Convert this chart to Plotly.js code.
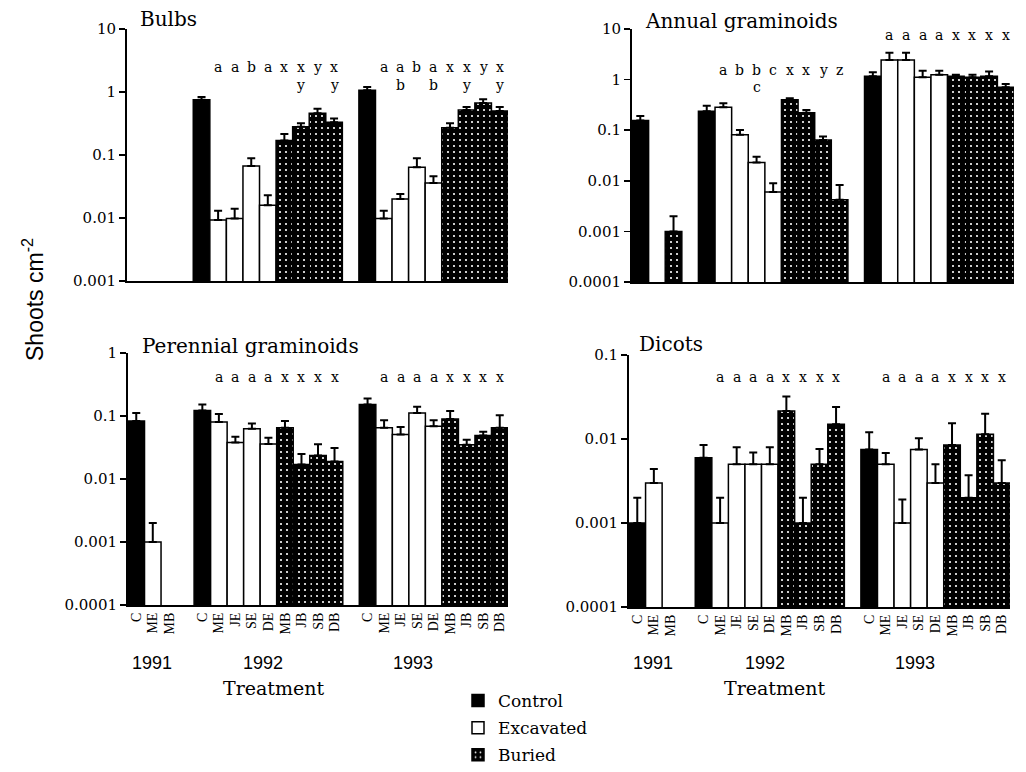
<!DOCTYPE html>
<html><head><meta charset="utf-8">
<script src="https://cdn.plot.ly/plotly-3.0.1.min.js"></script>
<style>html,body{margin:0;padding:0;background:#fff;overflow:hidden}#chart{width:1026px;height:772px}</style>
</head><body><div id="chart"></div>
<script>
// ---------- data ----------
const years = ['1991', '1992', '1993'];
const treatments1991 = ['C', 'ME', 'MB'];
const treatments = ['C', 'ME', 'JE', 'SE', 'DE', 'MB', 'JB', 'SB', 'DB'];
const groupNames = ['Control', 'Excavated', 'Buried'];
const groupOf = {C: 'Control', ME: 'Excavated', JE: 'Excavated', SE: 'Excavated', DE: 'Excavated',
                 MB: 'Buried', JB: 'Buried', SB: 'Buried', DB: 'Buried'};

// Bulbs
const bulbs1991 = [null, null, null];
const bulbs1991Err = [null, null, null];
const bulbs1992 = [0.75, 0.0093, 0.0098, 0.067, 0.016, 0.17, 0.28, 0.46, 0.33];
const bulbs1992Err = [0.08, 0.0037, 0.0042, 0.022, 0.007, 0.045, 0.04, 0.08, 0.05];
const bulbs1993 = [1.07, 0.0098, 0.020, 0.064, 0.036, 0.27, 0.52, 0.67, 0.50];
const bulbs1993Err = [0.13, 0.0032, 0.004, 0.025, 0.010, 0.05, 0.06, 0.10, 0.08];
const bulbsLetters1992 = ['a', 'a', 'b', 'a', 'x', 'x', 'y', 'x'];
const bulbsLetters1992b = ['', '', '', '', '', 'y', '', 'y'];
const bulbsLetters1993 = ['a', 'a', 'b', 'a', 'x', 'x', 'y', 'x'];
const bulbsLetters1993b = ['', 'b', '', 'b', '', 'y', '', 'y'];

// Annual graminoids
const annual1991 = [0.155, null, 0.001];
const annual1991Err = [0.035, null, 0.001];
const annual1992 = [0.237, 0.285, 0.081, 0.023, 0.006, 0.40, 0.22, 0.064, 0.0042];
const annual1992Err = [0.068, 0.055, 0.020, 0.007, 0.0029, 0.03, 0.03, 0.011, 0.0041];
const annual1993 = [1.17, 2.45, 2.45, 1.11, 1.24, 1.17, 1.11, 1.17, 0.71];
const annual1993Err = [0.23, 0.95, 0.95, 0.39, 0.26, 0.07, 0.13, 0.27, 0.11];
const annualLetters1992 = ['a', 'b', 'b', 'c', 'x', 'x', 'y', 'z'];
const annualLetters1992b = ['', '', 'c', '', '', '', '', ''];
const annualLetters1993 = ['a', 'a', 'a', 'a', 'x', 'x', 'x', 'x'];
const annualLetters1993b = ['', '', '', '', '', '', '', ''];

// Perennial graminoids
const perennial1991 = [0.083, 0.001, null];
const perennial1991Err = [0.029, 0.001, null];
const perennial1992 = [0.122, 0.080, 0.038, 0.063, 0.036, 0.065, 0.017, 0.0237, 0.019];
const perennial1992Err = [0.030, 0.028, 0.009, 0.013, 0.009, 0.018, 0.008, 0.012, 0.012];
const perennial1993 = [0.152, 0.065, 0.051, 0.112, 0.069, 0.090, 0.035, 0.049, 0.065];
const perennial1993Err = [0.038, 0.021, 0.016, 0.028, 0.017, 0.030, 0.007, 0.007, 0.038];
const perennialLetters1992 = ['a', 'a', 'a', 'a', 'x', 'x', 'x', 'x'];
const perennialLetters1993 = ['a', 'a', 'a', 'a', 'x', 'x', 'x', 'x'];

// Dicots
const dicots1991 = [0.001, 0.003, null];
const dicots1991Err = [0.001, 0.0014, null];
const dicots1992 = [0.006, 0.001, 0.005, 0.005, 0.005, 0.0216, 0.001, 0.005, 0.015];
const dicots1992Err = [0.0025, 0.001, 0.003, 0.0019, 0.003, 0.0104, 0.001, 0.0026, 0.009];
const dicots1993 = [0.0075, 0.005, 0.001, 0.0075, 0.003, 0.0085, 0.002, 0.0114, 0.003];
const dicots1993Err = [0.0045, 0.0018, 0.0009, 0.0027, 0.002, 0.0069, 0.0017, 0.0086, 0.0026];
const dicotsLetters1992 = ['a', 'a', 'a', 'a', 'x', 'x', 'x', 'x'];
const dicotsLetters1993 = ['a', 'a', 'a', 'a', 'x', 'x', 'x', 'x'];

// ---------- layout / styling ----------
const W = 1026, H = 772;
const SERIF = '"DejaVu Serif", serif';
const SANS = '"Liberation Sans", Arial, sans-serif';

const panels = [
  {title: 'Bulbs', vals: [bulbs1991, bulbs1992, bulbs1993], errs: [bulbs1991Err, bulbs1992Err, bulbs1993Err],
   letters: [null, [bulbsLetters1992, bulbsLetters1992b], [bulbsLetters1993, bulbsLetters1993b]],
   rowY: [[67, 85], [67, 85]], yr: [-3, 1],
   px: [127, 508], py: [29, 281], titlePos: [138, 19], bottom: false},
  {title: 'Annual graminoids', vals: [annual1991, annual1992, annual1993], errs: [annual1991Err, annual1992Err, annual1993Err],
   letters: [null, [annualLetters1992, annualLetters1992b], [annualLetters1993, annualLetters1993b]],
   rowY: [[70, 87], [35, 49]], yr: [-4, 1],
   px: [632, 1014], py: [29, 282], titlePos: [643, 21], bottom: false},
  {title: 'Perennial graminoids', vals: [perennial1991, perennial1992, perennial1993], errs: [perennial1991Err, perennial1992Err, perennial1993Err],
   letters: [null, [perennialLetters1992], [perennialLetters1993]],
   rowY: [[377], [377]], yr: [-4, 0],
   px: [128, 508], py: [353, 605], titlePos: [140, 346], bottom: true},
  {title: 'Dicots', vals: [dicots1991, dicots1992, dicots1993], errs: [dicots1991Err, dicots1992Err, dicots1993Err],
   letters: [null, [dicotsLetters1992], [dicotsLetters1993]],
   rowY: [[377], [377]], yr: [-4, -1],
   px: [629, 1010], py: [355, 607], titlePos: [637, 344], bottom: true}
];

// slot positions: groups of bars separated by one empty slot
const groupLabels = years.map((y, i) => i === 0 ? treatments1991 : treatments);
const slotPos = [];
let p = 0;
groupLabels.forEach(g => { slotPos.push(g.map(() => p++)); p++; });
const tickPos = [].concat(...slotPos);
const tickText = [].concat(...groupLabels);
const yearCenter = [0.95, 7.7, 16.75];

const styles = {
  Control: {color: '#000', line: {color: '#000', width: 1.5}},
  Excavated: {color: '#fff', line: {color: '#000', width: 1.5}},
  Buried: {color: '#000', line: {color: '#000', width: 1.5},
           pattern: {shape: '.', fgcolor: '#ffffff', bgcolor: '#000000', size: 6, solidity: 0.1, fillmode: 'replace'}}
};

const traces = [];
const annotations = [];
const layout = {
  width: W, height: H, margin: {l: 0, r: 0, t: 0, b: 0, pad: 0, autoexpand: false},
  paper_bgcolor: '#fff', plot_bgcolor: 'rgba(0,0,0,0)',
  barmode: 'overlay', bargap: 0,
  showlegend: true,
  legend: {x: 458 / W, y: 1 - 683 / H, xanchor: 'left', yanchor: 'top',
           font: {family: SERIF, size: 17, color: '#000'}, tracegroupgap: 2,
           bgcolor: 'rgba(0,0,0,0)'},
  font: {family: SERIF, color: '#000'}
};

panels.forEach((pn, k) => {
  const n = k + 1;
  const xa = 'x' + (n === 1 ? '' : n), ya = 'y' + (n === 1 ? '' : n);
  groupNames.forEach(gname => {
    const xs = [], ys = [], es = [];
    groupLabels.forEach((labs, gi) => {
      labs.forEach((lab, li) => {
        const v = pn.vals[gi][li];
        if (groupOf[lab] === gname && v !== null && v > 0) {
          xs.push(slotPos[gi][li]); ys.push(v); es.push(pn.errs[gi][li]);
        }
      });
    });
    traces.push({
      type: 'bar', x: xs, y: ys, width: 1, xaxis: xa, yaxis: ya,
      name: gname, legendgroup: gname, showlegend: k === 0,
      marker: styles[gname],
      error_y: {type: 'data', array: es, arrayminus: es.map(() => 0), symmetric: false,
                color: '#000', thickness: 2, width: 4},
      hoverinfo: 'skip'
    });
  });

  const tv = [], tt = [];
  for (let e = pn.yr[0]; e <= pn.yr[1]; e++) {
    tv.push(Math.pow(10, e));
    tt.push(e < 0 ? Math.pow(10, e).toFixed(-e) : String(Math.pow(10, e)));
  }
  layout['xaxis' + (n === 1 ? '' : n)] = {
    domain: [pn.px[0] / W, pn.px[1] / W], anchor: ya, range: [-0.5, 22.5],
    showline: true, linewidth: 2, linecolor: '#000', showgrid: false, zeroline: false,
    ticks: '', tickvals: tickPos, ticktext: tickText, tickangle: -90,
    showticklabels: pn.bottom, tickfont: {family: '"Liberation Serif", serif', size: 14, color: '#000'},
    fixedrange: true
  };
  layout['yaxis' + (n === 1 ? '' : n)] = {
    domain: [1 - pn.py[1] / H, 1 - pn.py[0] / H], anchor: xa, type: 'log',
    range: pn.yr, autorange: false,
    showline: true, linewidth: 2, linecolor: '#000', showgrid: false, zeroline: false,
    ticks: 'outside', ticklen: 6, tickwidth: 1.5, tickcolor: '#000',
    tickvals: tv, ticktext: tt, tickfont: {family: SERIF, size: 15, color: '#000'},
    fixedrange: true
  };

  annotations.push({text: pn.title, xref: 'paper', yref: 'paper', x: pn.titlePos[0] / W, y: 1 - pn.titlePos[1] / H,
    xanchor: 'left', yanchor: 'middle', showarrow: false, font: {family: SERIF, size: 20, color: '#000'}});

  // significance letters
  [1, 2].forEach(gi => {
    const rows = pn.letters[gi];
    if (!rows) return;
    rows.forEach((row, ri) => {
      row.forEach((L, li) => {
        if (!L) return;
        annotations.push({text: L, xref: xa, yref: 'paper', x: slotPos[gi][li + 1],
          y: 1 - pn.rowY[gi - 1][ri] / H, xanchor: 'center', yanchor: 'middle', showarrow: false,
          font: {family: SERIF, size: 14, color: '#000'}});
      });
    });
  });

  if (pn.bottom) {
    years.forEach((yr, i) => {
      annotations.push({text: yr, xref: xa, yref: 'paper', x: yearCenter[i], y: 1 - 663 / H,
        xanchor: 'center', yanchor: 'middle', showarrow: false, font: {family: SANS, size: 18, color: '#000'}});
    });
    annotations.push({text: 'Treatment', xref: 'paper', yref: 'paper', x: (pn.px[0] + 145) / W, y: 1 - 688 / H,
      xanchor: 'center', yanchor: 'middle', showarrow: false, font: {family: SERIF, size: 19, color: '#000'}});
  }
});

annotations.push({text: 'Shoots cm<sup>-2</sup>', xref: 'paper', yref: 'paper', x: 33 / W, y: 1 - 300 / H,
  xanchor: 'center', yanchor: 'middle', textangle: -90, showarrow: false,
  font: {family: SANS, size: 23, color: '#000'}});

layout.annotations = annotations;
Plotly.newPlot('chart', traces, layout, {staticPlot: true, displayModeBar: false});
</script>
</body></html>
